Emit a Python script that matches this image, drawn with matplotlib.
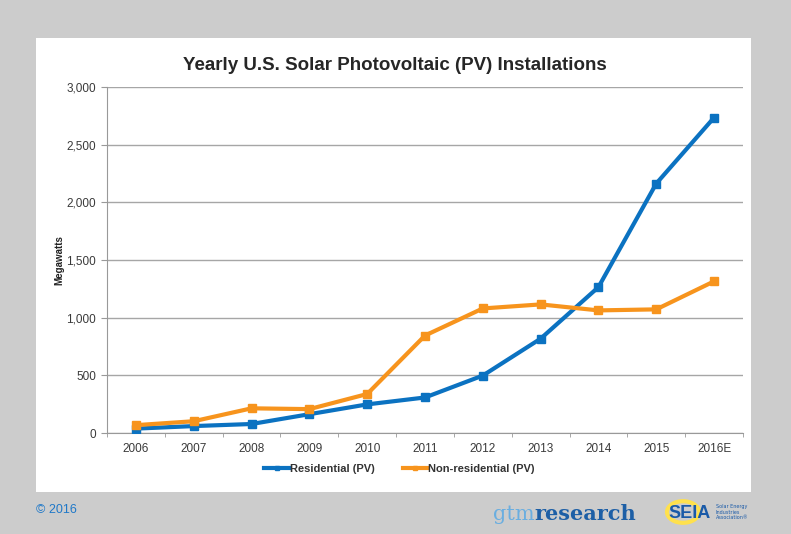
import matplotlib.pyplot as plt
from matplotlib.patches import Rectangle, Circle
import numpy as np

# Données (MW)
annees = ["2006", "2007", "2008", "2009", "2010", "2011", "2012", "2013", "2014", "2015", "2016E"]
residentiel = [38, 60, 78, 163, 248, 308, 498, 818, 1265, 2163, 2735]
non_residentiel = [68, 102, 214, 207, 338, 845, 1080, 1115, 1063, 1072, 1315]
yticks = [0, 500, 1000, 1500, 2000, 2500, 3000]

bleu = "#0b72c1"
orange = "#f7941d"
narrow = ["Liberation Sans Narrow", "Liberation Sans", "DejaVu Sans"]

fig = plt.figure(figsize=(7.91, 5.34), dpi=100)
fig.patch.set_facecolor("#cccccc")
W, H = 791, 534

# panneau blanc
fig.patches.append(Rectangle((36 / W, 1 - 492 / H), (751 - 36) / W, (492 - 38) / H,
                             transform=fig.transFigure, facecolor="white", edgecolor="none", zorder=-5))

ax = fig.add_axes([107 / W, 1 - 433 / H, (743 - 107) / W, (433 - 87) / H])
ax.set_zorder(2)
ax.set_facecolor("white")
x = np.arange(len(annees))
ax.plot(x, residentiel, color=bleu, lw=3, marker="s", ms=6, label="Residential (PV)", zorder=3)
ax.plot(x, non_residentiel, color=orange, lw=3, marker="s", ms=6, label="Non-residential (PV)", zorder=3)

ax.set_xlim(-0.5, len(annees) - 0.5)
ax.set_ylim(0, 3000)
ax.set_yticks(yticks)
ax.set_yticklabels([f"{v:,}" for v in yticks], fontsize=8.5, color="#3a3a3a", family="Liberation Sans")
ax.set_xticks(x)
ax.set_xticklabels(annees, fontsize=8.5, color="#3a3a3a", family="Liberation Sans")
ax.set_xticks(np.arange(-0.5, len(annees), 1), minor=True)
ax.tick_params(axis="x", which="major", length=0, pad=7)
ax.tick_params(axis="x", which="minor", length=3, color="#999999", direction="out")
ax.tick_params(axis="y", length=4, color="#999999", pad=4)
ax.grid(axis="y", color="#a6a6a6", lw=1)
ax.set_axisbelow(True)
for s in ["top", "right"]:
    ax.spines[s].set_visible(False)
for s in ["left", "bottom"]:
    ax.spines[s].set_color("#999999")
ax.set_ylabel("Megawatts", fontsize=7, fontweight="bold", color="#222222", family="Liberation Sans", labelpad=1)

fig.text(395 / W, 1 - 66 / H, "Yearly U.S. Solar Photovoltaic (PV) Installations", ha="center", va="center",
         fontsize=13.5, fontweight="bold", color="#262626", family=narrow)

leg = ax.legend(loc="center", bbox_to_anchor=(0.46, -0.103), ncol=2, frameon=False,
                prop={"family": "Liberation Sans", "weight": "bold", "size": 8},
                handlelength=2.2, handletextpad=0.1, columnspacing=2.5, markerscale=0.6)
for t in leg.get_texts():
    t.set_color("#333333")

# pied de page
fig.text(36 / W, 1 - 510 / H, "© 2016", fontsize=9, color="#1f78c8", va="center", family=narrow)
rech = fig.text(636 / W, 1 - 514 / H, "research", fontsize=15, color="#1d5fa6", va="center", ha="right",
                fontweight="bold", family="DejaVu Serif")
rend = fig.canvas.get_renderer()
gauche = rech.get_window_extent(rend).x0
fig.text(gauche / W, 1 - 514 / H, "gtm", fontsize=15, color="#6aaee0", va="center", ha="right",
         family="DejaVu Serif")
fig.patches.append(Circle((683 / W, 1 - 512 / H), 16 / W, transform=fig.transFigure,
                          facecolor="none", edgecolor="#ffe14d", lw=3))
fig.text(668 / W, 1 - 513 / H, "SEIA", fontsize=13, color="#1a5aa8", va="center",
         fontweight="bold", family=narrow)
fig.text(716 / W, 1 - 512 / H, "Solar Energy\nIndustries\nAssociation®", fontsize=3.5, color="#1a5aa8",
         va="center", family="DejaVu Sans", linespacing=1.1)

fig.savefig("out.png", dpi=100, facecolor=fig.get_facecolor())
